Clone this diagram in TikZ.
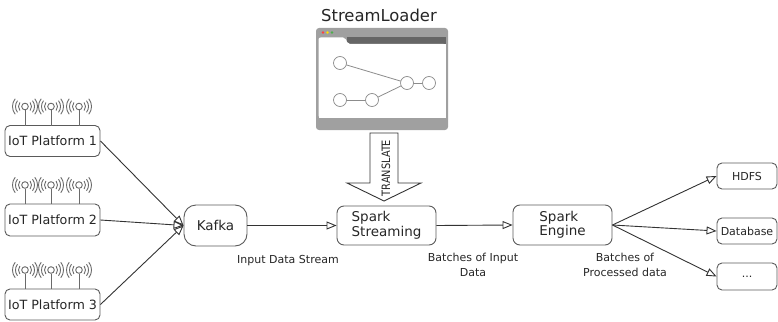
\documentclass[tikz,border=0pt]{standalone}
\usepackage{fontspec}
\setmainfont{DejaVu Sans}
\usetikzlibrary{arrows.meta}
\definecolor{txt}{HTML}{262626}
\definecolor{edge}{HTML}{333333}
\definecolor{boxline}{HTML}{5A5A5A}
\definecolor{wave}{HTML}{6A6A6A}
\definecolor{barlight}{HTML}{A0A0A0}
\definecolor{bardark}{HTML}{666666}
\definecolor{graphline}{HTML}{8C8C8C}
\begin{document}
\begin{tikzpicture}[x=1pt,y=-1pt,
  box/.style={draw=boxline, line width=0.9pt, rounded corners=5pt, inner sep=0pt,
    text=txt, font=\fontsize{12.7}{15}\selectfont},
  kafkabox/.style={box, rounded corners=12pt, font=\fontsize{13.5}{15}\selectfont},
  sparkbox/.style={box, rounded corners=7pt, align=left, font=\fontsize{13.5}{14.5}\selectfont},
  sinkbox/.style={box, minimum width=60pt, minimum height=26pt, font=\fontsize{11}{13}\selectfont},
  caption/.style={text=txt, align=center, inner sep=0pt, font=\fontsize{11}{15}\selectfont},
  flow/.style={draw=edge, line width=0.9pt, -{Triangle[open, length=10pt, width=8pt]}},
  mast/.style={draw=wave, line width=0.9pt},
  radiowave/.style={draw=wave, line width=0.9pt},
  gnode/.style={draw=graphline, fill=white, line width=0.7pt},
  glink/.style={draw=graphline, line width=0.8pt}]

\useasboundingbox (0,0) rectangle (778,321);

% IoT platforms
\node[box, minimum width=95pt, minimum height=31pt] (p1) at (52.5,141) {IoT Platform 1};
\node[box, minimum width=95pt, minimum height=32pt] (p2) at (52.5,220) {IoT Platform 2};
\node[box, minimum width=95pt, minimum height=31pt] (p3) at (52.5,304.5) {IoT Platform 3};

% radio antennas on top of each platform
\foreach \t in {125.5,204,289} {
  \foreach \a in {25,51,79} {
    \draw[mast] (\a,\t-15.5) -- (\a,\t);
    \draw[mast, fill=white] (\a,\t-19) circle (3.3);
    \foreach \r in {6.5,9.5,12.5} {
      \draw[radiowave] (\a,\t-19) ++(-38:\r) arc[start angle=-38, end angle=38, radius=\r];
      \draw[radiowave] (\a,\t-19) ++(142:\r) arc[start angle=142, end angle=218, radius=\r];
    }
  }
}

% processing chain
\node[kafkabox, minimum width=63pt, minimum height=41pt] (kafka) at (215.5,225.5) {Kafka};
\node[sparkbox, minimum width=99pt, minimum height=39pt] (ss) at (386.5,225.5) {Spark\\Streaming};
\node[sparkbox, minimum width=99pt, minimum height=40pt] (se) at (562.5,225) {Spark\\Engine};

% sinks
\node[sinkbox] (hdfs) at (747,176) {HDFS};
\node[sinkbox] (db) at (747,231) {Database};
\node[sinkbox, minimum height=27pt] (more) at (747,276.5) {...};

% connectors
\draw[flow] (p1.east) -- (kafka.west);
\draw[flow] (p2.east) -- (kafka.west);
\draw[flow] (p3.east) -- (kafka.west);
\draw[flow] (kafka.east) -- (ss.west);
\draw[flow] (ss.east) -- (se.west);
\draw[flow] (se.east) -- (hdfs.west);
\draw[flow] (se.east) -- (db.west);
\draw[flow] (se.east) -- (more.west);

% captions
\node[caption] (l1) at (288,261) {Input Data Stream};
\node[caption] (l2) at (473,264.5) {Batches of Input\\Data};
\node[caption] (l3) at (625,264.5) {Batches of\\Processed data};

% StreamLoader window
\node[text=txt, inner sep=0pt, font=\fontsize{16.4}{18}\selectfont] (title) at (379,15) {StreamLoader};
\fill[barlight, rounded corners=3pt] (316,28) rectangle (448,130);
\fill[bardark] (347,37.5) rectangle (445.5,44);
\fill[white, rounded corners=2pt] (318.5,37.5) -- (345,37.5) -- (348,44) -- (445.5,44) -- (445.5,117.5) -- (318.5,117.5) -- cycle;
\fill[white] (318.5,44) rectangle (445.5,117.5);
\fill[red!75!white] (323,32.5) circle (1.4);
\fill[yellow!80!orange] (327.5,32.5) circle (1.4);
\fill[green!55!black!70!white] (332,32.5) circle (1.4);

\coordinate (g1) at (340,63);
\coordinate (g2) at (340,100);
\coordinate (g3) at (372,100);
\coordinate (g4) at (407,83);
\coordinate (g5) at (429,83);
\draw[glink] (g1) -- (g4);
\draw[glink] (g2) -- (g3);
\draw[glink] (g3) -- (g4);
\draw[glink] (g4) -- (g5);
\foreach \g in {g1,g2,g3,g4,g5} \draw[gnode] (\g) circle (6.5);

% TRANSLATE arrow
\draw[draw=edge, fill=white, line width=0.9pt]
  (370,133) -- (398,133) -- (398,183) -- (421,183) -- (384,201) -- (347,183) -- (370,183) -- cycle;
\node[rotate=90, text=txt, inner sep=0pt, font=\fontsize{11.5}{13}\selectfont, xscale=0.85] (tr) at (386,168) {TRANSLATE};

\end{tikzpicture}
\end{document}
